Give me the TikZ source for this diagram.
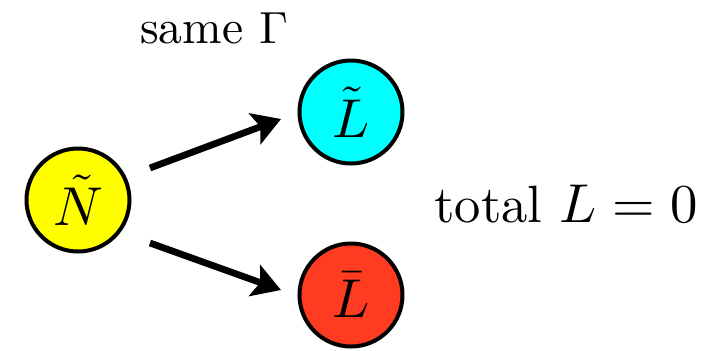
\documentclass[tikz,border=0pt]{standalone}
\usetikzlibrary{arrows.meta}
\definecolor{nyellow}{RGB}{255,255,0}
\definecolor{lcyan}{RGB}{0,255,255}
\definecolor{lred}{RGB}{255,59,34}
\begin{document}
\begin{tikzpicture}[x=0.2pt,y=-0.2pt,
  ball/.style={circle,draw=black,line width=0.8pt,minimum size=20.6pt,inner sep=0pt,font=\fontsize{10.5}{12}\selectfont},
  decay/.style={line width=1.35pt,-{Stealth[length=5.6pt,width=6.6pt,inset=1.2pt]}}]
\useasboundingbox (0,0) rectangle (713,350);
\node[ball,fill=nyellow] (N) at (78,200) {$\tilde N$};
\node[ball,fill=lcyan] (Lt) at (351,112) {$\tilde L$};
\node[ball,fill=lred] (Lb) at (351,295) {$\bar L$};
\coordinate (s1) at (150,168);
\coordinate (e1) at (281,119);
\coordinate (s2) at (150,243);
\coordinate (e2) at (281,290);
\draw[decay] (s1) -- (e1);
\draw[decay] (s2) -- (e2);
\node[font=\fontsize{9.5}{11}\selectfont] (g) at (214,28) {same $\Gamma$};
\node[font=\fontsize{10.5}{12}\selectfont] (t) at (566,204) {total $L=0$};
\end{tikzpicture}
\end{document}
